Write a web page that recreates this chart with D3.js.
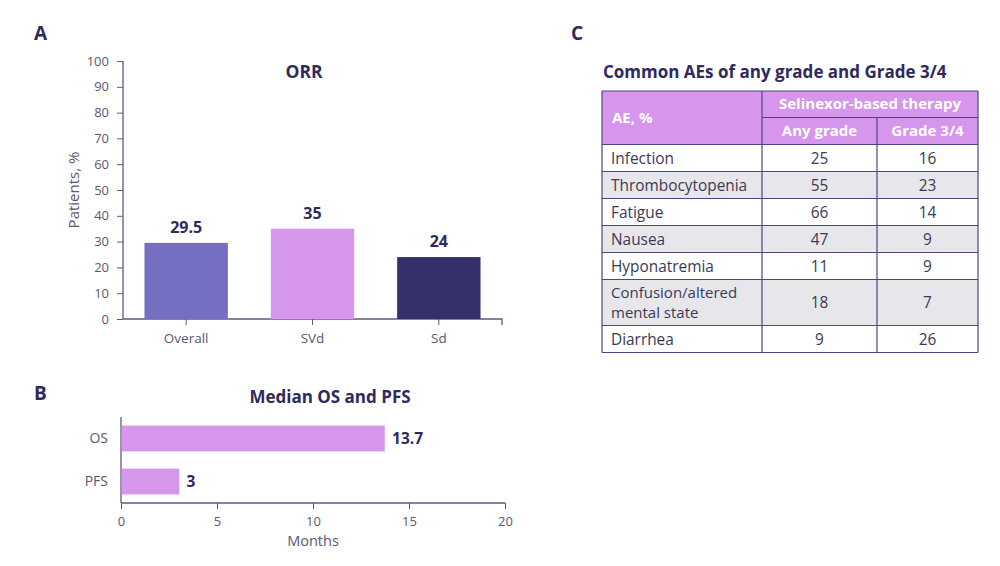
<!DOCTYPE html>
<html><head><meta charset="utf-8">
<script src="https://cdn.jsdelivr.net/npm/d3@7"></script>
<style>
body{margin:0;background:#fff;}
svg{font-family:"Open Sans",sans-serif;}
</style></head>
<body>
<svg id="c" width="1000" height="566"></svg>
<script>
// ---- data ----
const orrCategories = ["Overall", "SVd", "Sd"];
const orrValues = [29.5, 35, 24];
const orrTicks = [0,10,20,30,40,50,60,70,80,90,100];
const survCategories = ["OS", "PFS"];
const survValues = [13.7, 3];
const survTicks = [0,5,10,15,20];
const aeNames = ["Infection", "Thrombocytopenia", "Fatigue", "Nausea", "Hyponatremia", "Confusion/altered\nmental state", "Diarrhea"];
const aeAnyGrade = [25, 55, 66, 47, 11, 18, 9];
const aeGrade34 = [16, 23, 14, 9, 9, 7, 26];
const tableHeaders = ["AE, %", "Selinexor-based therapy", "Any grade", "Grade 3/4"];

const navy = "#2e2a5c", axisCol = "#5d5a80", tickText = "#5a586e";
const orrColors = ["#746fc0", "#d596ec", "#34306a"];
const svg = d3.select("#c");

// panel letters
svg.selectAll("text.letter").data([["A",34,40],["B",34,400],["C",571,40]]).join("text")
  .attr("x", d=>d[1]).attr("y", d=>d[2]).text(d=>d[0])
  .attr("font-size",19).attr("font-weight",700).attr("fill",navy);

// ---- Panel A ----
const xA = d3.scaleBand().domain(orrCategories).range([123,502]).paddingInner(0.34).paddingOuter(0.17);
const yA = d3.scaleLinear().domain([0,100]).range([319,61]);
const gA = svg.append("g");
gA.append("g").attr("transform","translate(123,0)")
  .call(d3.axisLeft(yA).tickValues(orrTicks).tickSize(6).tickPadding(8))
  .call(g=>{g.select(".domain").attr("stroke",axisCol).attr("stroke-width",1.3).attr("d","M0,61V319");
    g.selectAll(".tick line").attr("stroke",axisCol);
    g.selectAll("text").attr("fill",tickText).attr("font-size",13).attr("font-family","Open Sans");});
gA.append("g").attr("transform","translate(0,319)")
  .call(d3.axisBottom(xA).tickSize(6).tickPadding(8))
  .call(g=>{g.select(".domain").attr("stroke",axisCol).attr("stroke-width",1.3).attr("d","M123,0H502V6");
    g.selectAll(".tick line").attr("stroke",axisCol);
    g.selectAll("text").attr("fill",tickText).attr("font-size",13.5).attr("font-family","Open Sans");});
gA.selectAll("rect.bar").data(orrValues).join("rect")
  .attr("x",(d,i)=>xA(orrCategories[i])).attr("width",xA.bandwidth())
  .attr("y",d=>yA(d)).attr("height",d=>yA(0)-yA(d)).attr("fill",(d,i)=>orrColors[i]);
gA.selectAll("text.val").data(orrValues).join("text")
  .attr("x",(d,i)=>xA(orrCategories[i])+xA.bandwidth()/2).attr("y",d=>yA(d)-10)
  .attr("text-anchor","middle").attr("font-size",16).attr("font-weight",700).attr("fill",navy).text(d=>d);
gA.append("text").attr("x",304).attr("y",78).attr("text-anchor","middle")
  .attr("font-size",17.5).attr("font-weight",700).attr("fill",navy).text("ORR");
gA.append("text").attr("transform","translate(79,190) rotate(-90)").attr("text-anchor","middle")
  .attr("font-size",15).attr("fill",tickText).text("Patients, %");

// ---- Panel B ----
const xB = d3.scaleLinear().domain([0,20]).range([121,505]);
const yB = d3.scaleBand().domain(survCategories).range([417,503]).paddingInner(0.4).paddingOuter(0.2);
const gB = svg.append("g");
gB.append("g").attr("transform","translate(0,503)")
  .call(d3.axisBottom(xB).tickValues(survTicks).tickSize(6).tickPadding(8))
  .call(g=>{g.select(".domain").attr("stroke",axisCol).attr("stroke-width",1.3).attr("d","M121,0H505");
    g.selectAll(".tick line").attr("stroke",axisCol);
    g.selectAll("text").attr("fill",tickText).attr("font-size",13).attr("font-family","Open Sans");});
gB.append("g").attr("transform","translate(121,0)")
  .call(d3.axisLeft(yB).tickSize(0).tickPadding(13))
  .call(g=>{g.select(".domain").attr("stroke",axisCol).attr("stroke-width",1.3).attr("d","M0,417V503");
    g.selectAll("text").attr("fill",tickText).attr("font-size",14).attr("font-family","Open Sans");});
gB.selectAll("rect.bar").data(survValues).join("rect")
  .attr("x",xB(0)+0.7).attr("y",(d,i)=>yB(survCategories[i])).attr("height",yB.bandwidth())
  .attr("width",d=>xB(d)-xB(0)).attr("fill","#d596ec");
gB.selectAll("text.val").data(survValues).join("text")
  .attr("x",d=>xB(d)+8).attr("y",(d,i)=>yB(survCategories[i])+yB.bandwidth()/2+5.5)
  .attr("font-size",15.5).attr("font-weight",700).attr("fill",navy).text(d=>d);
gB.append("text").attr("x",330).attr("y",403).attr("text-anchor","middle")
  .attr("font-size",17).attr("font-weight",700).attr("fill",navy).text("Median OS and PFS");
gB.append("text").attr("x",313).attr("y",546).attr("text-anchor","middle")
  .attr("font-size",14.5).attr("fill",tickText).text("Months");

// ---- Panel C table ----
const gC = svg.append("g");
gC.append("text").attr("x",603).attr("y",78).attr("font-size",17).attr("font-weight",700).attr("fill",navy)
  .text("Common AEs of any grade and Grade 3/4");
const colX = [602, 762, 877, 978];
const headTop = 91, headMid = 117.5, headBot = 144.5;
const rowH = aeNames.map(n => n.includes("\n") ? 46 : 27);
const rowY = []; let acc = headBot; rowH.forEach(h=>{rowY.push(acc); acc+=h;});
const tableBot = acc;
const lineCol = "#4b4785", headBg = "#d596ec", altBg = "#e7e7eb", bodyText = "#3b3a55";
gC.append("rect").attr("x",colX[0]).attr("y",headTop).attr("width",colX[3]-colX[0]).attr("height",headBot-headTop).attr("fill",headBg);
gC.selectAll("rect.row").data(aeNames).join("rect")
  .attr("x",colX[0]).attr("y",(d,i)=>rowY[i]).attr("width",colX[3]-colX[0]).attr("height",(d,i)=>rowH[i])
  .attr("fill",(d,i)=>i%2===1?altBg:"#fff");
const hdr = [
  {t:tableHeaders[0], x:colX[0]+10, y:(headTop+headBot)/2+5, a:"start"},
  {t:tableHeaders[1], x:(colX[1]+colX[3])/2, y:(headTop+headMid)/2+5, a:"middle"},
  {t:tableHeaders[2], x:(colX[1]+colX[2])/2, y:(headMid+headBot)/2+5, a:"middle"},
  {t:tableHeaders[3], x:(colX[2]+colX[3])/2, y:(headMid+headBot)/2+5, a:"middle"}];
gC.selectAll("text.hdr").data(hdr).join("text").attr("x",d=>d.x).attr("y",d=>d.y).attr("text-anchor",d=>d.a)
  .attr("font-size",15).attr("font-weight",700).attr("fill","#fff").text(d=>d.t);
aeNames.forEach((n,i)=>{
  const lines = n.split("\n");
  const cy = rowY[i]+rowH[i]/2;
  lines.forEach((l,k)=>{
    gC.append("text").attr("x",colX[0]+9).attr("y",cy+5.5+(k-(lines.length-1)/2)*20.5)
      .attr("font-size",lines.length>1?15:15.4).attr("fill",bodyText).text(l);
  });
  gC.append("text").attr("x",(colX[1]+colX[2])/2).attr("y",cy+5.5).attr("text-anchor","middle")
    .attr("font-size",15.4).attr("fill",bodyText).text(aeAnyGrade[i]);
  gC.append("text").attr("x",(colX[2]+colX[3])/2).attr("y",cy+5.5).attr("text-anchor","middle")
    .attr("font-size",15.4).attr("fill",bodyText).text(aeGrade34[i]);
});
const hLines = [headTop, headBot, ...rowY.slice(1), tableBot];
gC.selectAll("line.h").data(hLines).join("line")
  .attr("x1",colX[0]).attr("x2",colX[3]).attr("y1",d=>d).attr("y2",d=>d).attr("stroke",lineCol).attr("stroke-width",1.2);
gC.append("line").attr("x1",colX[1]).attr("x2",colX[3]).attr("y1",headMid).attr("y2",headMid).attr("stroke",lineCol).attr("stroke-width",1.2);
const vLines = [[colX[0],headTop,tableBot],[colX[1],headTop,tableBot],[colX[2],headMid,tableBot],[colX[3],headTop,tableBot]];
gC.selectAll("line.v").data(vLines).join("line")
  .attr("x1",d=>d[0]).attr("x2",d=>d[0]).attr("y1",d=>d[1]).attr("y2",d=>d[2]).attr("stroke",lineCol).attr("stroke-width",1.2);
</script>
</body></html>
